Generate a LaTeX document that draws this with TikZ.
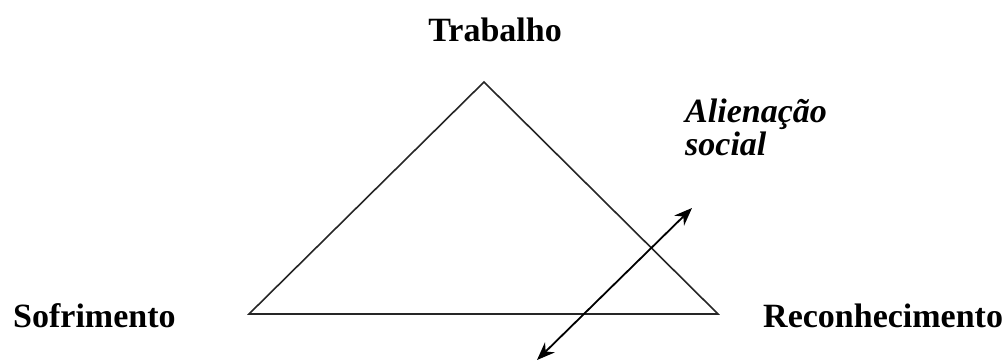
\documentclass[tikz,border=0pt]{standalone}
\usepackage{fontspec}
\setmainfont{Liberation Serif}
\usetikzlibrary{arrows.meta,positioning}

\begin{document}
\begin{tikzpicture}[
  x=1pt, y=-1pt,
  >=Stealth,
  every node/.style={inner sep=0pt,font=\fontsize{34}{33}\selectfont\bfseries},
  side/.style={draw=black!85,line width=1.6pt,line join=miter},
  cross/.style={draw=black,line width=1.8pt,{Stealth[length=18pt,width=14pt]}-{Stealth[length=18pt,width=14pt]}}
]
\useasboundingbox (0,0) rectangle (1007,362);

\coordinate (top) at (484,82);
\coordinate (lft) at (249,314);
\coordinate (rgt) at (718,314);

\coordinate (lo) at (537,360);
\coordinate (hi) at (692,208);

\node (trab) [anchor=base] at (495,41) {Trabalho};
\node (sofr) [anchor=base west] at (13,327) {Sofrimento};
\node (reco) [anchor=base west] at (763,327) {Reconhecimento};
\node (alie) [anchor=base west,align=left,font=\fontsize{34}{33}\selectfont\bfseries\itshape] at (685,155) {Alienação\\social};

\draw[side] (top) -- (rgt) -- (lft) -- cycle;
\draw[cross] (lo) -- (hi);
\end{tikzpicture}
\end{document}
